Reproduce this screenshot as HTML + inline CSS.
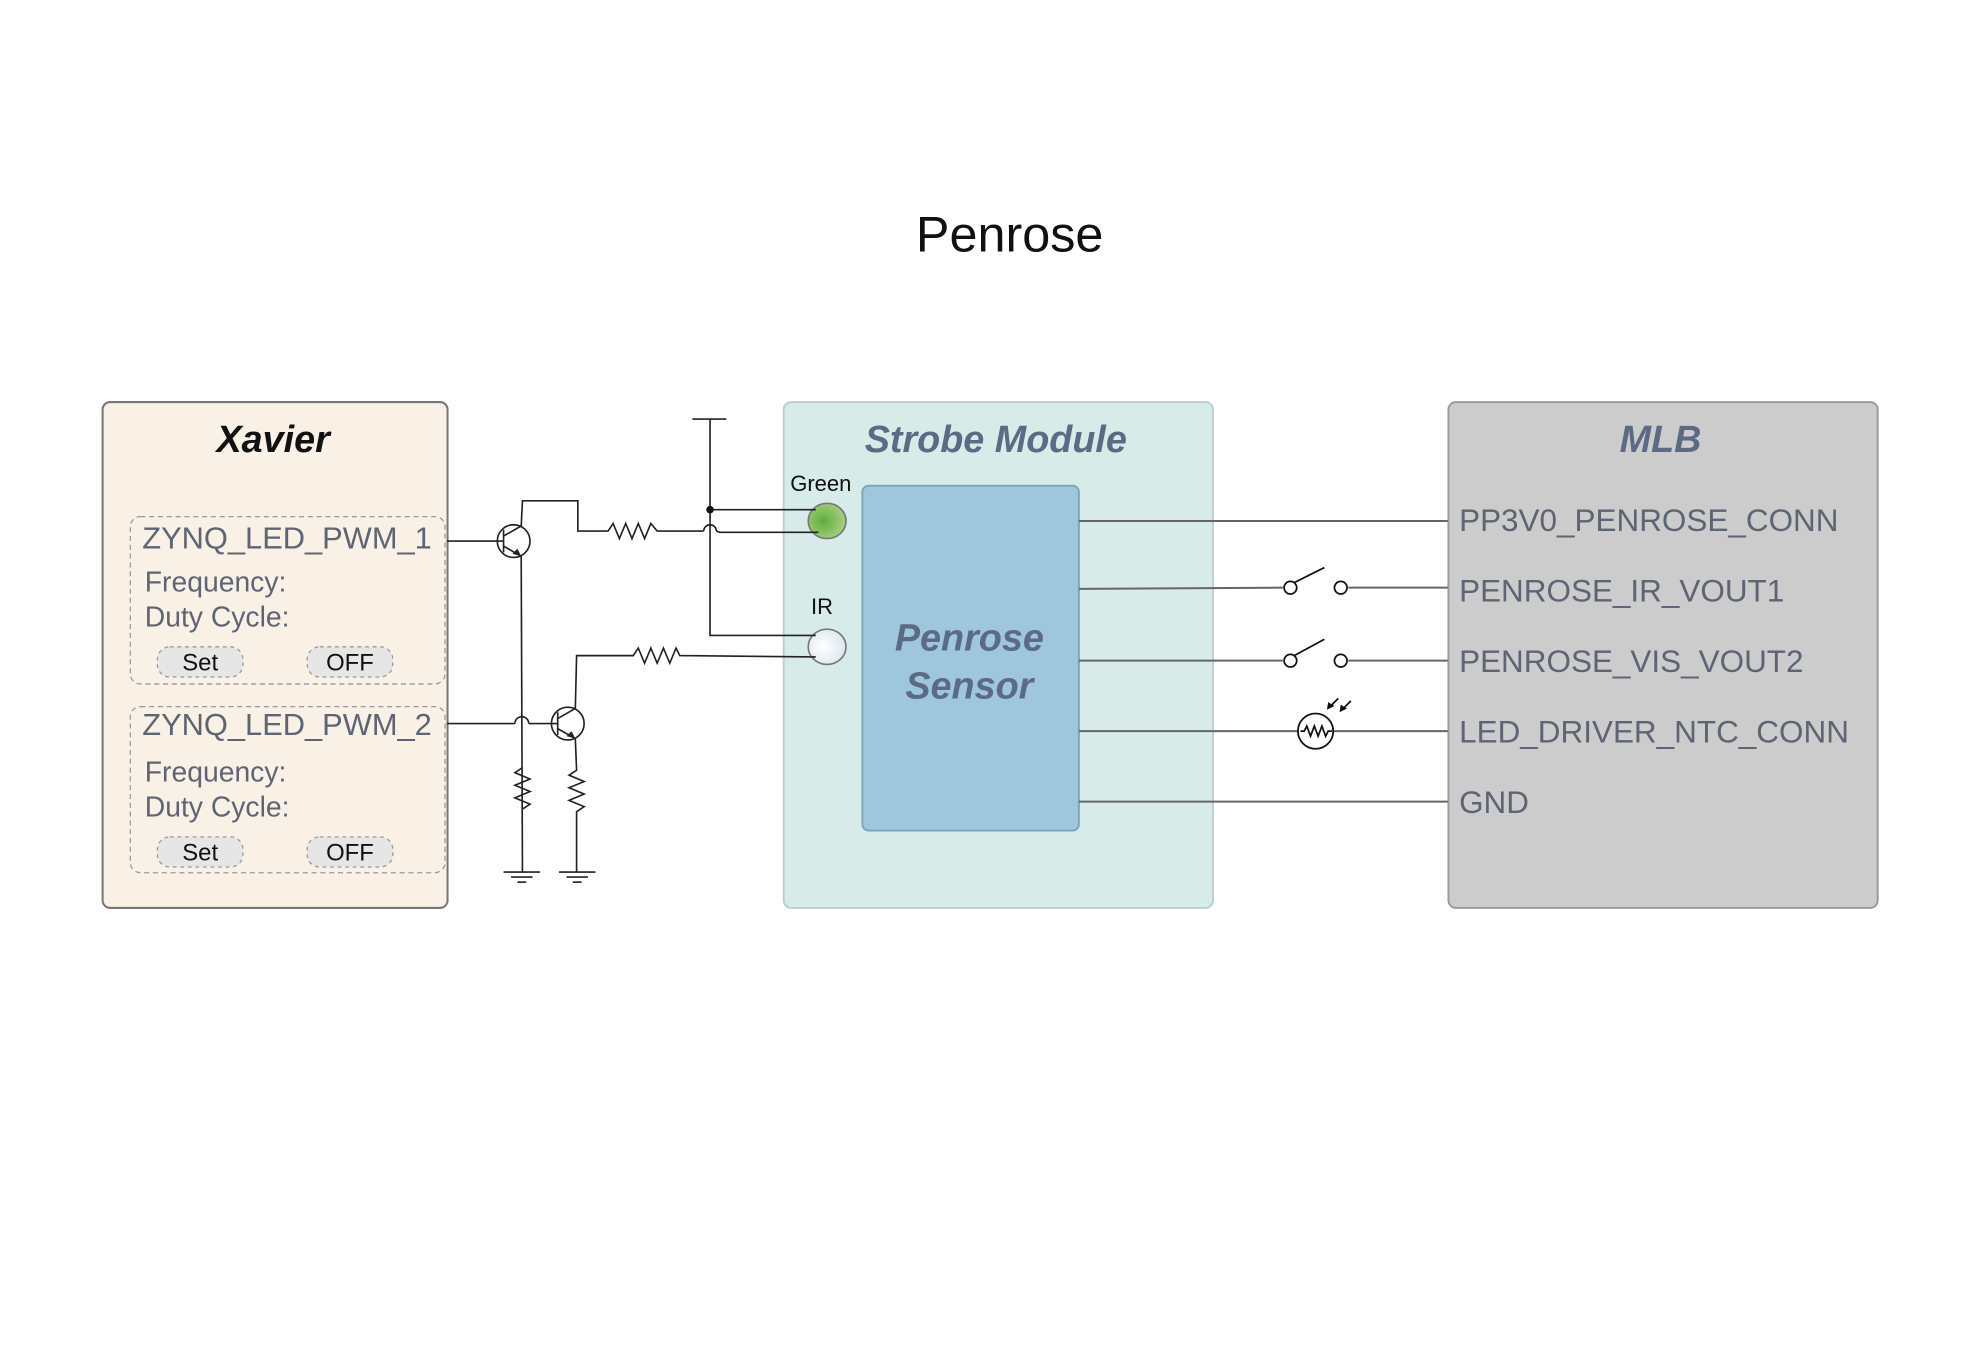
<!DOCTYPE html>
<html><head><meta charset="utf-8"><style>
html,body{margin:0;padding:0;background:#fff;width:1974px;height:1349px;overflow:hidden}
svg{display:block}
text{font-family:"Liberation Sans",sans-serif}
</style></head><body>
<svg width="1974" height="1349" viewBox="0 0 1568 1072" preserveAspectRatio="none" xmlns="http://www.w3.org/2000/svg">
<defs>
<radialGradient id="gg" cx="0.4" cy="0.5" r="0.6"><stop offset="0" stop-color="#5fae3a"/><stop offset="1" stop-color="#a9cf85"/></radialGradient>
<radialGradient id="wg" cx="0.4" cy="0.5" r="0.6"><stop offset="0" stop-color="#ffffff"/><stop offset="1" stop-color="#dde6ee"/></radialGradient>
</defs>
<text x="802" y="200" font-size="40" text-anchor="middle" fill="#111">Penrose</text>

<rect x="81.5" y="319.5" width="274" height="402" rx="6" fill="#f9f0e6" stroke="#777" stroke-width="1.6"/>
<text x="217" y="359" font-size="30" font-weight="bold" font-style="italic" text-anchor="middle" fill="#111">Xavier</text>
<rect x="103.5" y="410.5" width="250" height="133" rx="8" fill="none" stroke="#999" stroke-dasharray="4,3"/>
<rect x="103.5" y="561.5" width="250" height="132" rx="8" fill="none" stroke="#999" stroke-dasharray="4,3"/>
<g fill="#5d6473">
<text x="113" y="436" font-size="24.5">ZYNQ_LED_PWM_1</text>
<text x="115" y="470" font-size="22.5">Frequency:</text>
<text x="115" y="498" font-size="22.5">Duty Cycle:</text>
<text x="113" y="584" font-size="24.5">ZYNQ_LED_PWM_2</text>
<text x="115" y="621" font-size="22.5">Frequency:</text>
<text x="115" y="649" font-size="22.5">Duty Cycle:</text>
</g>
<g fill="#e6e6e6" stroke="#999" stroke-dasharray="3,3">
<rect x="125" y="514" width="68" height="24" rx="10"/>
<rect x="244" y="514" width="68" height="24" rx="10"/>
<rect x="125" y="665" width="68" height="24" rx="10"/>
<rect x="244" y="665" width="68" height="24" rx="10"/>
</g>
<g font-size="19" fill="#111" text-anchor="middle">
<text x="159" y="533">Set</text><text x="278" y="533">OFF</text>
<text x="159" y="684">Set</text><text x="278" y="684">OFF</text>
</g>

<rect x="622.5" y="319.5" width="341" height="402" rx="6" fill="#d7ebe8" stroke="#b8cfcc" stroke-width="1.5"/>
<text x="791" y="359" font-size="30" font-weight="bold" font-style="italic" text-anchor="middle" fill="#5d6a85">Strobe Module</text>
<rect x="685" y="386" width="172" height="274" rx="5" fill="#9ec6dc" stroke="#7fa3b8" stroke-width="1.5"/>
<text x="770" y="517" font-size="30" font-weight="bold" font-style="italic" text-anchor="middle" fill="#5d6a85">Penrose</text>
<text x="770" y="555" font-size="30" font-weight="bold" font-style="italic" text-anchor="middle" fill="#5d6a85">Sensor</text>
<text x="652" y="390" font-size="17.5" text-anchor="middle" fill="#111">Green</text>
<text x="653" y="488" font-size="17.5" text-anchor="middle" fill="#111">IR</text>

<rect x="1150.5" y="319.5" width="341" height="402" rx="6" fill="#cccccc" stroke="#999" stroke-width="1.5"/>
<text x="1319" y="359" font-size="30" font-weight="bold" font-style="italic" text-anchor="middle" fill="#5d6a85">MLB</text>
<g fill="#5d6473" font-size="25">
<text x="1159" y="422">PP3V0_PENROSE_CONN</text>
<text x="1159" y="478">PENROSE_IR_VOUT1</text>
<text x="1159" y="534">PENROSE_VIS_VOUT2</text>
<text x="1159" y="590">LED_DRIVER_NTC_CONN</text>
<text x="1159" y="646">GND</text>
</g>

<g stroke="#666" stroke-width="1.6" fill="none">
<line x1="857" y1="414" x2="1150" y2="414"/>
<line x1="857" y1="468" x2="1019" y2="467"/><line x1="1071" y1="467" x2="1150" y2="467"/>
<line x1="857" y1="525" x2="1019" y2="525"/><line x1="1071" y1="525" x2="1150" y2="525"/>
<line x1="857" y1="581" x2="1031" y2="581"/><line x1="1059" y1="581" x2="1150" y2="581"/>
<line x1="857" y1="637" x2="1150" y2="637"/>
</g>
<g stroke="#111" stroke-width="1.4" fill="#fff">
<circle cx="1025" cy="467" r="5"/><circle cx="1065" cy="467" r="5"/>
<line x1="1028" y1="463" x2="1052" y2="451"/>
<circle cx="1025" cy="525" r="5"/><circle cx="1065" cy="525" r="5"/>
<line x1="1028" y1="521" x2="1052" y2="508"/>
<circle cx="1045" cy="581" r="14"/>
<polyline fill="none" points="1033,581 1036,581 1038,577 1041,585 1044,577 1047,585 1050,577 1053,585 1055,581 1058,581"/>
<line x1="1063" y1="555" x2="1056" y2="562"/><line x1="1073" y1="557" x2="1066" y2="564"/>
</g>
<g fill="#111"><polygon points="1054,564 1055,558 1060,561"/><polygon points="1064,566 1065,560 1070,563"/></g>

<ellipse cx="657" cy="414" rx="15" ry="14" fill="url(#gg)" stroke="#777" stroke-width="1.3"/>
<ellipse cx="657" cy="514" rx="15" ry="14" fill="url(#wg)" stroke="#777" stroke-width="1.3"/>

<g stroke="#222" stroke-width="1.3" fill="none">
<line x1="355" y1="430" x2="400" y2="430"/>
<circle cx="408" cy="430" r="13"/>
<line x1="400" y1="421" x2="400" y2="439"/>
<line x1="400" y1="426" x2="414" y2="418"/><line x1="400" y1="434" x2="414" y2="442"/>
<polyline points="414,418 415,398 459,398 459,422 483,422 487,416 492,428 497,416 502,428 507,416 512,428 517,416 522,422 559,422"/>
<path d="M559,422 a5,5 0 0 1 10,0"/>
<polyline points="569,422 572,423 650,423"/>
<line x1="550" y1="333" x2="577" y2="333"/>
<polyline points="564,333 564,505 648,505"/>
<line x1="564" y1="405" x2="648" y2="405"/>
<polyline points="414,442 415,693"/>
<line x1="355" y1="575" x2="409" y2="575"/>
<path d="M409,575 a5.5,5.5 0 0 1 11,0"/>
<line x1="420" y1="575" x2="443" y2="575"/>
<circle cx="451" cy="575" r="13"/>
<line x1="443" y1="566" x2="443" y2="584"/>
<line x1="443" y1="571" x2="457" y2="563"/><line x1="443" y1="579" x2="457" y2="587"/>
<polyline points="457,563 458,521 503,521 507,515 512,527 517,515 522,527 527,515 532,527 537,515 540,521 648,522"/>
<polyline points="415,610 409,614 421,619 409,624 421,629 409,634 421,639 415,643"/>
<polyline points="457,587 458,612 452,616 464,621 452,626 464,631 452,636 464,641 458,645 458,693"/>
<line x1="400" y1="693" x2="429" y2="693"/><line x1="406" y1="697" x2="423" y2="697"/><line x1="411" y1="701" x2="418" y2="701"/>
<line x1="444" y1="693" x2="473" y2="693"/><line x1="450" y1="697" x2="467" y2="697"/><line x1="455" y1="701" x2="462" y2="701"/>
</g>
<g fill="#223"><polygon points="414,442 407,440 411,436"/><polygon points="457,587 450,585 454,581"/></g>
<circle cx="564" cy="405" r="3" fill="#111"/>
</svg>
</body></html>
